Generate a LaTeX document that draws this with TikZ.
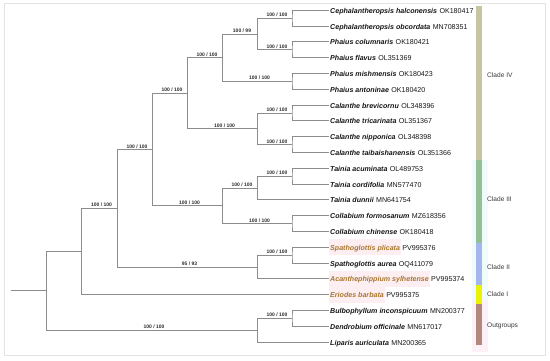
\documentclass[tikz,border=0pt]{standalone}
\usepackage{fontspec}
\setmainfont{Liberation Sans}
\usepackage{xcolor}
\usepackage{tikz}
\usetikzlibrary{positioning}
\definecolor{ink}{HTML}{151515}
\definecolor{twig}{HTML}{8C8C8C}
\definecolor{rim}{HTML}{E3E3E3}
\definecolor{newtext}{HTML}{A8772D}
\definecolor{newtint}{HTML}{FDEEF2}
\definecolor{cIV}{HTML}{C7C4A1}
\definecolor{cIII}{HTML}{93C096}
\definecolor{cII}{HTML}{A3B6EE}
\definecolor{cI}{HTML}{E9F207}
\definecolor{cOut}{HTML}{B3877C}
\definecolor{bandcyan}{HTML}{F0FCFB}
\definecolor{bandpink}{HTML}{FDF0F6}

\begin{document}
\begin{tikzpicture}[x=1pt,y=-1pt,
  branch/.style={twig,line width=0.9pt},
  taxon/.style={anchor=west,inner xsep=1pt,inner ysep=2.6pt,text height=1.6ex,text depth=0.45ex,font=\fontsize{7.1}{8}\selectfont\bfseries\itshape,text=ink},
  newtaxon/.style={taxon,fill=newtint,text=newtext},
  acc/.style={inner xsep=0pt,inner ysep=2.6pt,text height=1.6ex,text depth=0.45ex,font=\fontsize{7.1}{8}\selectfont,text=ink},
  sup/.style={font=\fontsize{5}{6}\selectfont\bfseries,above=0.3pt,inner sep=0.6pt,xshift=2.5pt,text=ink!90},
  cladetag/.style={anchor=west,inner sep=0pt,font=\fontsize{6.6}{8}\selectfont,text=ink!85}]
\useasboundingbox (0,0) rectangle (550,360);
\draw[rim,line width=0.8pt] (4.5,3.5) rectangle (545,355);
% --- clade bars
\fill[bandcyan] (472,160) rectangle (488,300);
\fill[bandpink] (472,300) rectangle (488,352);
\foreach \ya/\yb/\col in {6/160/cIV,160/243/cIII,243/285/cII,285/304/cI,304/345/cOut}
  {\fill[\col] (476,\ya) rectangle (482,\yb);}
\node[cladetag] (cladeIV) at (487,75) {Clade IV};
\node[cladetag] (cladeIII) at (487,199) {Clade III};
\node[cladetag] (cladeII) at (487,267) {Clade II};
\node[cladetag] (cladeI) at (487,294) {Clade I};
\node[cladetag] (outgroups) at (487,326) {Outgroups};
% --- taxa
\foreach \n/\sp/\ac/\st in {
  1/Cephalantheropsis halconensis/OK180417/taxon,
  2/Cephalantheropsis obcordata/MN708351/taxon,
  3/Phaius columnaris/OK180421/taxon,
  4/Phaius flavus/OL351369/taxon,
  5/Phaius mishmensis/OK180423/taxon,
  6/Phaius antoninae/OK180420/taxon,
  7/Calanthe brevicornu/OL348396/taxon,
  8/Calanthe tricarinata/OL351367/taxon,
  9/Calanthe nipponica/OL348398/taxon,
  10/Calanthe taibaishanensis/OL351366/taxon,
  11/Tainia acuminata/OL489753/taxon,
  12/Tainia cordifolia/MN577470/taxon,
  13/Tainia dunnii/MN641754/taxon,
  14/Collabium formosanum/MZ618356/taxon,
  15/Collabium chinense/OK180418/taxon,
  16/Spathoglottis plicata/PV995376/newtaxon,
  17/Spathoglottis aurea/OQ411079/taxon,
  18/Acanthephippium sylhetense/PV995374/newtaxon,
  19/Eriodes barbata/PV995375/newtaxon,
  20/Bulbophyllum inconspicuum/MN200377/taxon,
  21/Dendrobium officinale/MN617017/taxon,
  22/Liparis auriculata/MN200365/taxon}
{
  \node[\st] (t\n) at (329,{10.3+15.8*(\n-1)}) {\sp};
  \node[acc,right=1pt of t\n] (a\n) {\ac};
}
% --- tree
\coordinate (ceph) at (292,18.2);
\coordinate (phcol) at (292,49.8);
\coordinate (phmish) at (292,81.4);
\coordinate (calA) at (292,113.0);
\coordinate (calB) at (292,144.6);
\coordinate (tainA) at (292,176.2);
\coordinate (coll) at (292,223.6);
\coordinate (spath) at (292,255.2);
\coordinate (bulb) at (292,318.4);
\coordinate (cp) at (257,34.0);
\coordinate (phaius) at (222,57.7);
\coordinate (cal) at (257,128.8);
\coordinate (c4) at (187,93.25);
\coordinate (tain3) at (257,188.05);
\coordinate (c3) at (222,205.8);
\coordinate (c34) at (152,149.5);
\coordinate (c2) at (257,267.05);
\coordinate (c234) at (117,208.3);
\coordinate (c1234) at (81,251.5);
\coordinate (og) at (257,330.25);
\coordinate (root) at (46,290.9);
\coordinate (base) at (11,290.9);
% pairs of tips
\foreach \p/\a/\b in {ceph/1/2,phcol/3/4,phmish/5/6,calA/7/8,calB/9/10,tainA/11/12,coll/14/15,spath/16/17,bulb/20/21}
  {\draw[branch] (t\a.west) -| (\p) |- (t\b.west);}
% single tips
\foreach \p/\a in {tain3/13,c2/18,c1234/19,og/22}
  {\draw[branch] (\p) |- (t\a.west);}
% inner branches with support
\foreach \p/\c/\bp/\pp in {cp/ceph/100/100,cp/phcol/100/100,phaius/cp/100/99,phaius/phmish/100/100,
  cal/calA/100/100,cal/calB/100/100,c4/phaius/100/100,c4/cal/100/100,tain3/tainA/100/100,
  c3/tain3/100/100,c3/coll/100/100,c34/c4/100/100,c34/c3/100/100,c2/spath/100/100,
  c234/c34/100/100,c234/c2/95/93,c1234/c234/100/100,og/bulb/100/100,root/og/100/100}
  {\draw[branch] (\p) |- (\c) node[sup,pos=0.75] {\bp\ / \pp};}
\draw[branch] (base) -- (root) |- (c1234);
\end{tikzpicture}
\end{document}
